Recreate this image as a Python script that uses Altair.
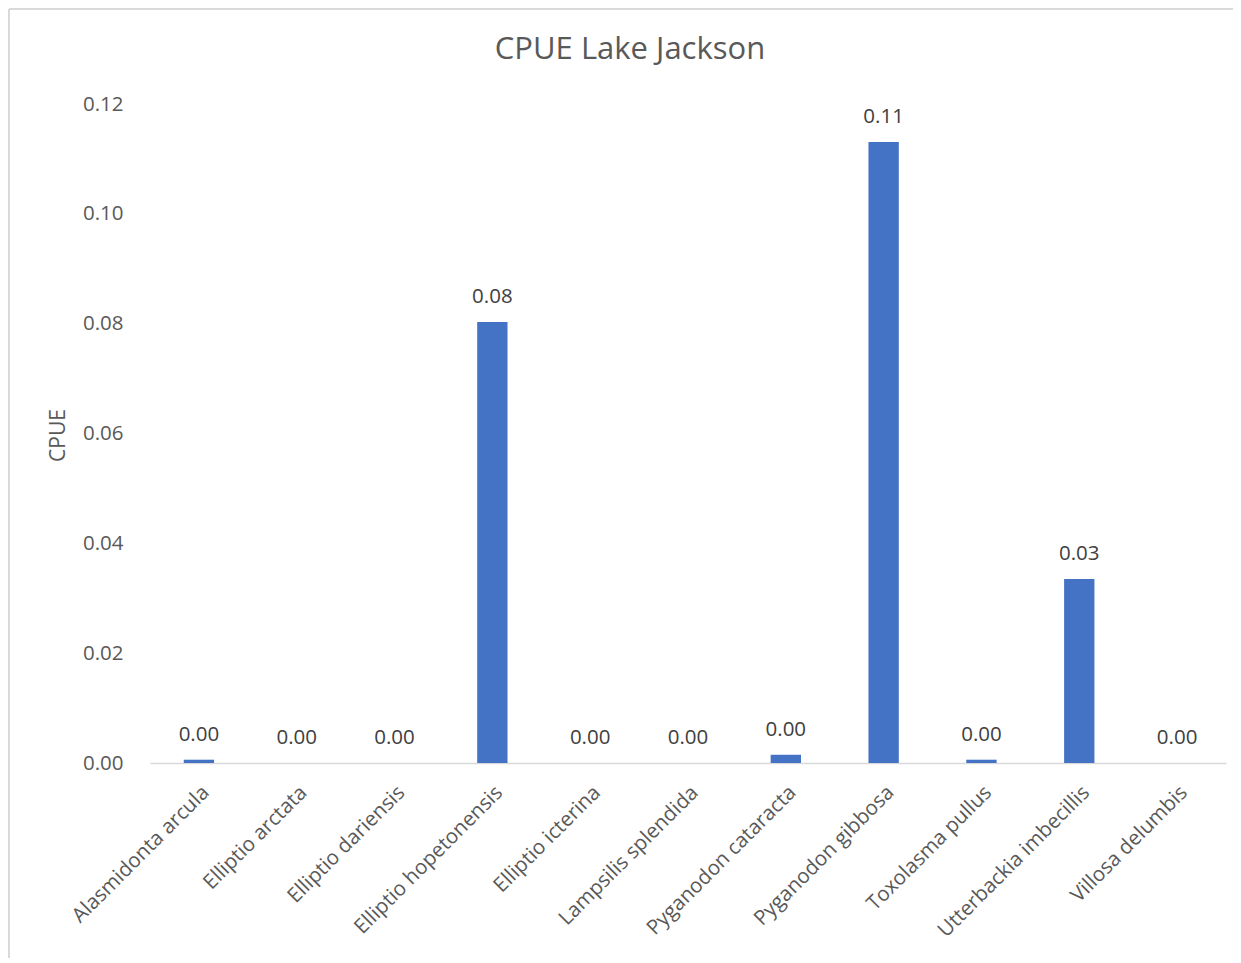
import altair as alt
import pandas as pd

species = [
    "Alasmidonta arcula", "Elliptio arctata", "Elliptio dariensis",
    "Elliptio hopetonensis", "Elliptio icterina", "Lampsilis splendida",
    "Pyganodon cataracta", "Pyganodon gibbosa", "Toxolasma pullus",
    "Utterbackia imbecillis", "Villosa delumbis",
]
cpue = [0.0006, 0.0, 0.0, 0.0803, 0.0, 0.0, 0.0015, 0.1131, 0.0006, 0.0335, 0.0]
title_text = "CPUE Lake Jackson"

df = pd.DataFrame({"species": species, "cpue": cpue})

FONT = "Open Sans"
GREY = "#595959"
FS = 20.5

x = alt.X(
    "species:N", sort=species, title=None,
    scale=alt.Scale(paddingInner=0.69, paddingOuter=0.345),
    axis=alt.Axis(labelAngle=-45, labelAlign="right", labelBaseline="top",
                  labelFontSize=FS, labelColor=GREY, labelFont=FONT,
                  ticks=False, domainColor="#D9D9D9", domainWidth=1.5,
                  labelPadding=19, labelLimit=400),
)
y = alt.Y(
    "cpue:Q", title="CPUE",
    scale=alt.Scale(domain=[0, 0.12], nice=False),
    axis=alt.Axis(values=[0, 0.02, 0.04, 0.06, 0.08, 0.10, 0.12], format=".2f",
                  grid=False, domain=False, ticks=False,
                  labelFontSize=FS, labelColor=GREY, labelFont=FONT,
                  labelPadding=27, titleFont=FONT, titleFontSize=21,
                  titleColor=GREY, titleFontWeight="normal",
                  titleX=-92, titleY=331, titleAngle=-90,
                  titleBaseline="middle", titleAlign="center"),
)

bars = alt.Chart(df).mark_bar(color="#4472C4").encode(x=x, y=y)
labels = alt.Chart(df).mark_text(
    baseline="middle", dy=-25, fontSize=FS, font=FONT, color="#404040"
).encode(x=x, y=y, text=alt.Text("cpue:Q", format=".2f"))

frame_top = alt.Chart(df).mark_rule(color="#D9D9D9", strokeWidth=1.5).encode(
    x=alt.value(-141), x2=alt.value(1090), y=alt.value(-95))
frame_left = alt.Chart(df).mark_rule(color="#D9D9D9", strokeWidth=1.5).encode(
    x=alt.value(-141), y=alt.value(-95), y2=alt.value(860))

title = alt.Chart(pd.DataFrame({"t": [title_text]})).mark_text(
    fontSize=31, font=FONT, color=GREY, align="center", baseline="middle"
).encode(x=alt.value(480), y=alt.value(-54), text="t:N")

chart = (frame_top + frame_left + bars + labels + title).properties(
    width=1076, height=659,
    autosize=alt.AutoSizeParams(type="none"),
    padding={"left": 142, "top": 96, "right": 7, "bottom": 195},
).configure_view(stroke=None)

chart.save("out.html", embed_options={"renderer": "svg", "actions": False})
